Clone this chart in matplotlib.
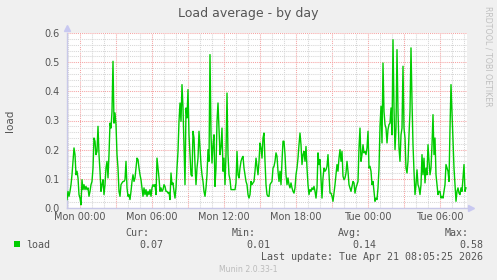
import numpy as np
import pandas as pd
import matplotlib
matplotlib.use('Agg')
import matplotlib.pyplot as plt
import matplotlib.dates as mdates
from matplotlib.patches import Rectangle

# 5-minute load samples, Sun 22:55 -> Tue 08:15
load = [
    0.029, 0.057, 0.040, 0.057, 0.080, 0.114, 0.160, 0.206, 0.183, 0.114,
    0.126, 0.103, 0.046, 0.034, 0.011, 0.097, 0.063, 0.080, 0.063, 0.074,
    0.063, 0.069, 0.040, 0.057, 0.080, 0.091, 0.137, 0.240, 0.229, 0.183,
    0.194, 0.280, 0.183, 0.126, 0.057, 0.080, 0.097, 0.046, 0.080, 0.137,
    0.160, 0.103, 0.183, 0.291, 0.274, 0.331, 0.503, 0.291, 0.326, 0.286,
    0.183, 0.137, 0.057, 0.040, 0.080, 0.086, 0.091, 0.091, 0.097, 0.160,
    0.069, 0.040, 0.046, 0.029, 0.057, 0.091, 0.114, 0.091, 0.103, 0.137,
    0.171, 0.166, 0.137, 0.114, 0.097, 0.069, 0.040, 0.069, 0.046, 0.063,
    0.040, 0.057, 0.046, 0.063, 0.040, 0.069, 0.080, 0.074, 0.080, 0.046,
    0.171, 0.137, 0.103, 0.057, 0.069, 0.057, 0.063, 0.080, 0.074, 0.057,
    0.057, 0.051, 0.054,
    0.029, 0.120, 0.080, 0.086, 0.057, 0.034, 0.069, 0.137, 0.194, 0.297,
    0.360, 0.297, 0.423, 0.343, 0.206, 0.080, 0.343, 0.309, 0.406, 0.251,
    0.183, 0.114, 0.109, 0.263, 0.240, 0.149, 0.080, 0.137, 0.171, 0.263,
    0.206, 0.149, 0.114, 0.091, 0.057, 0.040, 0.069, 0.114, 0.200, 0.160,
    0.526, 0.251, 0.154, 0.217, 0.251, 0.074, 0.137, 0.297, 0.360, 0.274,
    0.183, 0.211, 0.274, 0.126, 0.171, 0.080, 0.183, 0.394, 0.183, 0.114,
    0.097, 0.063, 0.063, 0.063, 0.063, 0.063, 0.086, 0.194, 0.114, 0.103,
    0.137, 0.160, 0.171, 0.177, 0.137, 0.114, 0.091, 0.080, 0.046, 0.034,
    0.046, 0.091, 0.080, 0.086, 0.091, 0.126, 0.171, 0.143, 0.114, 0.160,
    0.223, 0.206, 0.171, 0.240, 0.257, 0.160, 0.080, 0.046, 0.040,
    0.040, 0.080, 0.086, 0.091, 0.137, 0.143, 0.160, 0.189, 0.177, 0.126,
    0.091, 0.126, 0.080, 0.160, 0.229, 0.229, 0.183, 0.114, 0.080, 0.103,
    0.080, 0.069, 0.086, 0.069, 0.057, 0.051, 0.069, 0.114, 0.137, 0.171,
    0.217, 0.257, 0.217, 0.149, 0.183, 0.194, 0.160, 0.211, 0.137, 0.080,
    0.046, 0.063, 0.057, 0.069, 0.063, 0.074, 0.057, 0.034, 0.069, 0.189,
    0.149, 0.166, 0.103, 0.034, 0.103, 0.137, 0.126, 0.131, 0.143, 0.183,
    0.114, 0.051, 0.051, 0.040, 0.023, 0.051, 0.080, 0.114, 0.149, 0.126,
    0.171, 0.200, 0.160, 0.194, 0.109, 0.097, 0.103, 0.120, 0.160, 0.126,
    0.080, 0.069, 0.057, 0.074, 0.091, 0.086, 0.051, 0.069, 0.080, 0.091,
    0.206, 0.274, 0.160, 0.183, 0.217, 0.189, 0.194, 0.183, 0.206, 0.263,
    0.137,
    0.143, 0.126, 0.080, 0.091, 0.057, 0.023, 0.034, 0.029, 0.069, 0.137,
    0.280, 0.349, 0.223, 0.497, 0.331, 0.286, 0.274, 0.223, 0.269, 0.286,
    0.291, 0.343, 0.251, 0.577, 0.343, 0.200, 0.274, 0.543, 0.331, 0.206,
    0.160, 0.251, 0.274, 0.486, 0.274, 0.240, 0.137, 0.120, 0.160, 0.251,
    0.331, 0.549, 0.366, 0.217, 0.126, 0.046, 0.080, 0.131, 0.080, 0.069,
    0.046, 0.080, 0.183, 0.114, 0.171, 0.086, 0.137, 0.114, 0.217, 0.160,
    0.114, 0.137, 0.217, 0.320, 0.183, 0.240, 0.114, 0.080, 0.046, 0.057,
    0.057, 0.034, 0.040, 0.034, 0.057, 0.080, 0.149, 0.137, 0.126, 0.091,
    0.274, 0.423, 0.331, 0.240, 0.137, 0.080, 0.023, 0.057, 0.069, 0.051,
    0.046, 0.069, 0.057, 0.103, 0.149, 0.057, 0.069,
]
start = '2026-04-19 22:55'
end = '2026-04-21 08:15'
title = 'Load average - by day'
series_name = 'load'
stat_names = ['Cur:', 'Min:', 'Avg:', 'Max:']
stat_values = ['0.07', '0.01', '0.14', '0.58']
last_update = 'Last update: Tue Apr 21 08:05:25 2026'
version = 'Munin 2.0.33-1'
watermark = 'RRDTOOL / TOBI OETIKER'

times = pd.date_range(start, periods=len(load), freq='5min')

W, H = 497, 280
fig = plt.figure(figsize=(W / 100, H / 100), dpi=100, facecolor='#f0f0f0')
ax = fig.add_axes([67 / W, 1 - 208 / H, 400 / W, 175 / H])
ax.set_facecolor('white')

txt = '#555555'
green = '#00cc00'

ax.plot(times, load, color=green, lw=1.0, zorder=5)

ax.set_xlim(pd.Timestamp(start), pd.Timestamp(end))
ax.set_ylim(0, 0.6)

ax.xaxis.set_major_locator(mdates.HourLocator(byhour=range(0, 24, 3)))
ax.xaxis.set_minor_locator(mdates.HourLocator())


def fmt(x, pos):
    d = mdates.num2date(x)
    return d.strftime('%a %H:%M') if d.hour % 6 == 0 else ''


ax.xaxis.set_major_formatter(plt.FuncFormatter(fmt))
ax.set_yticks(np.arange(0, 0.61, 0.1))
ax.set_yticks(np.arange(0, 0.61, 0.02), minor=True)
ax.yaxis.set_major_formatter(plt.FormatStrFormatter('%.1f'))

ax.grid(which='minor', color='#d6d6d6', lw=0.75, ls=(0, (1, 1)), zorder=1)
ax.grid(which='major', color='#f5a3a3', lw=0.75, ls=(0, (1, 1)), zorder=2)
ax.set_axisbelow(True)

ax.tick_params(which='both', length=0, colors=txt, labelsize=7)
ax.tick_params(axis='y', pad=5)
ax.tick_params(axis='x', pad=3)
for s in ['top', 'right']:
    ax.spines[s].set_visible(False)
for s in ['left', 'bottom']:
    ax.spines[s].set_color('#c8c8e8')
    ax.spines[s].set_linewidth(1.0)

# axis arrows
ax.plot([0], [1.03], marker='^', ms=4, color='#c8c8f0', transform=ax.transAxes, clip_on=False)
ax.plot([1.01], [0], marker='>', ms=4, color='#c8c8f0', transform=ax.transAxes, clip_on=False)

ax.set_ylabel(series_name, color=txt, fontsize=7.5)
ax.yaxis.set_label_coords(-52 / 400, 0.5)

fig.text(248 / W, 1 - 13 / H, title, ha='center', va='center', fontsize=9, color=txt)
fig.text(488 / W, 1 - 56 / H, watermark, ha='center', va='center', rotation=270,
         fontsize=5.7, color='#c0c0c0')

# legend block
mono = dict(family='DejaVu Sans Mono', fontsize=7.2, color=txt, va='center')
fig.patches.append(Rectangle((14 / W, 1 - 247 / H), 6 / W, 6 / H, transform=fig.transFigure,
                             facecolor=green, edgecolor='none'))
fig.text(26 / W, 1 - 245 / H, series_name, ha='left', **mono)
name_right = [149, 256, 362, 469]
val_right = [163, 270, 376, 483]
for n, v, xn, xv in zip(stat_names, stat_values, name_right, val_right):
    fig.text(xn / W, 1 - 233.5 / H, n, ha='right', **mono)
    fig.text(xv / W, 1 - 245.5 / H, v, ha='right', **mono)
fig.text(483 / W, 1 - 257.5 / H, last_update, ha='right', **mono)
fig.text(248 / W, 1 - 269.5 / H, version, ha='center', va='center', fontsize=5.6, color='#bbbbbb')

fig.savefig('out.png', dpi=100, facecolor=fig.get_facecolor())
